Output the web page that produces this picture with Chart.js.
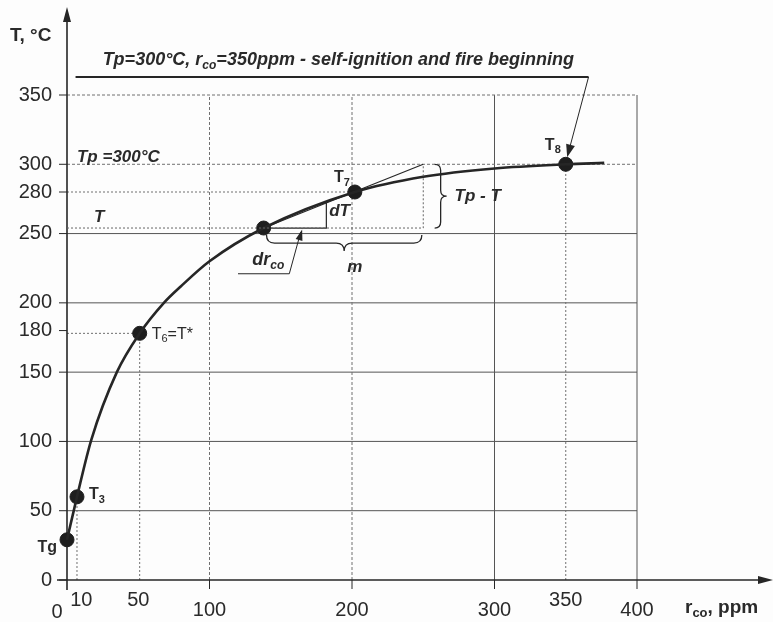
<!DOCTYPE html>
<html>
<head>
<meta charset="utf-8">
<script src="https://cdn.jsdelivr.net/npm/chart.js@4.4.0/dist/chart.umd.min.js"></script>
<style>
html, body { margin: 0; padding: 0; background: #fff; }
</style>
</head>
<body>
<canvas id="chart" width="773" height="622"></canvas>
<script>
// T = f(r_co) curve
const curveX = [0, 7, 17, 35, 51, 68, 80, 100, 138, 202, 250, 300, 350, 377];
const curveT = [29, 60, 101, 150, 178, 200, 212, 230, 254, 280, 291, 297, 300, 301];

// marked points
const pointNames = ['Tg', 'T3', 'T6', 'T', 'T7', 'T8'];
const pointX = [0, 7, 51, 138, 202, 350];
const pointT = [29, 60, 178, 254, 280, 300];

// secant through T and T7, extended up to Tp
const secantX = [138, 250];
const secantT = [254, 300];

// dT / dr_co step
const stepX = [138, 182, 182];
const stepT = [254, 254, 272];

// Tp - T box (dotted)
const boxX = [0, 250, 250];
const boxT = [254, 254, 300];

// self-ignition line at the top
const topLineX = [6, 366];
const topLineT = [363, 363];

// axis ticks
const xTicks = [0, 10, 50, 100, 200, 300, 350, 400];
const yTicks = [0, 50, 100, 150, 180, 200, 250, 280, 300, 350];
const yGridSolid = [50, 100, 150, 200, 250];
const yGridDotted = [300, 350];
const xGridSolid = [300, 400];
const xGridDotted = [100, 200];

const toXY = (xs, ys) => xs.map((x, i) => ({ x: x, y: ys[i] }));
const fam = '"Liberation Sans", Arial, sans-serif';
const ink = '#262626';

function rich(ctx, parts, x, y, size, style, align) {
  let w = 0;
  const fonts = parts.map(p => style + ' ' + (p[1] ? Math.round(size * 0.68) : size) + 'px ' + fam);
  const widths = parts.map((p, i) => { ctx.font = fonts[i]; const m = ctx.measureText(p[0]).width; w += m; return m; });
  let cx = align === 'right' ? x - w : align === 'center' ? x - w / 2 : x;
  ctx.textAlign = 'left';
  ctx.textBaseline = 'middle';
  parts.forEach((p, i) => {
    ctx.font = fonts[i];
    ctx.fillText(p[0], cx, p[1] ? y + size * 0.3 : y);
    cx += widths[i];
  });
}

function line(ctx, x1, y1, x2, y2) {
  ctx.beginPath(); ctx.moveTo(x1, y1); ctx.lineTo(x2, y2); ctx.stroke();
}

function arrowHead(ctx, x, y, ang, len, half) {
  ctx.beginPath();
  ctx.moveTo(x, y);
  ctx.lineTo(x - len * Math.cos(ang) + half * Math.sin(ang), y - len * Math.sin(ang) - half * Math.cos(ang));
  ctx.lineTo(x - len * Math.cos(ang) - half * Math.sin(ang), y - len * Math.sin(ang) + half * Math.cos(ang));
  ctx.closePath();
  ctx.fill();
}

function braceDown(ctx, x1, x2, y, d) {
  const xm = (x1 + x2) / 2, h = d / 2;
  ctx.beginPath();
  ctx.moveTo(x1, y);
  ctx.quadraticCurveTo(x1, y + h, x1 + h, y + h);
  ctx.lineTo(xm - h, y + h);
  ctx.quadraticCurveTo(xm, y + h, xm, y + d);
  ctx.quadraticCurveTo(xm, y + h, xm + h, y + h);
  ctx.lineTo(x2 - h, y + h);
  ctx.quadraticCurveTo(x2, y + h, x2, y);
  ctx.stroke();
}

function braceRight(ctx, x, y1, y2, d) {
  const ym = (y1 + y2) / 2, h = d / 2;
  ctx.beginPath();
  ctx.moveTo(x, y1);
  ctx.quadraticCurveTo(x + h, y1, x + h, y1 + h);
  ctx.lineTo(x + h, ym - h);
  ctx.quadraticCurveTo(x + h, ym, x + d, ym);
  ctx.quadraticCurveTo(x + h, ym, x + h, ym + h);
  ctx.lineTo(x + h, y2 - h);
  ctx.quadraticCurveTo(x + h, y2, x, y2);
  ctx.stroke();
}

const sketch = {
  id: 'sketch',
  beforeDraw(chart) {
    const ctx = chart.ctx;
    ctx.save();
    ctx.fillStyle = '#fdfdfd';
    ctx.fillRect(0, 0, chart.width, chart.height);
    ctx.restore();
  },
  beforeDatasetsDraw(chart) {
    const ctx = chart.ctx, sx = chart.scales.x, sy = chart.scales.y;
    const px = v => sx.getPixelForValue(v), py = v => sy.getPixelForValue(v);
    ctx.save();
    ctx.lineWidth = 1;
    // grid
    ctx.strokeStyle = '#555';
    yGridSolid.forEach(v => line(ctx, px(0), py(v), px(400), py(v)));
    xGridSolid.forEach(v => line(ctx, px(v), py(0), px(v), py(350)));
    ctx.strokeStyle = '#707070';
    ctx.setLineDash([3, 2]);
    yGridDotted.forEach(v => line(ctx, px(0), py(v), px(400), py(v)));
    xGridDotted.forEach(v => line(ctx, px(v), py(0), px(v), py(350)));
    // guides to the marked points
    ctx.setLineDash([2, 2]);
    [1, 2, 5].forEach(i => line(ctx, px(pointX[i]), py(0), px(pointX[i]), py(pointT[i])));
    [2, 4].forEach(i => line(ctx, px(0), py(pointT[i]), px(pointX[i]), py(pointT[i])));
    ctx.setLineDash([]);
    // tick marks
    ctx.strokeStyle = ink;
    yTicks.forEach(v => line(ctx, px(0) - 8, py(v), px(0), py(v)));
    [100, 200, 300, 400].forEach(v => line(ctx, px(v), py(0), px(v), py(0) + 9));
    // axes with arrows
    ctx.lineWidth = 1.6;
    line(ctx, px(0), py(0) + 10, px(0), 12);
    line(ctx, px(0) - 10, py(0), 764, py(0));
    ctx.fillStyle = ink;
    arrowHead(ctx, px(0), 7, -Math.PI / 2, 15, 4);
    arrowHead(ctx, 773, py(0), 0, 15, 4);
    ctx.restore();
  },
  afterDatasetsDraw(chart) {
    const ctx = chart.ctx, sx = chart.scales.x, sy = chart.scales.y;
    const px = v => sx.getPixelForValue(v), py = v => sy.getPixelForValue(v);
    ctx.save();
    ctx.fillStyle = '#2a2a2a';
    // tick labels
    yTicks.forEach(v => rich(ctx, [[String(v)]], px(0) - 15, py(v), 20, 'normal', 'right'));
    xTicks.forEach(v => {
      let x = px(v), y = py(0) + 30;
      if (v === 0) { x -= 10; y += 2; }
      if (v === 10 || v === 50 || v === 350) y -= 10;
      rich(ctx, [[String(v)]], x, y, 20, 'normal', 'center');
    });
    // axis titles
    rich(ctx, [['T, °C']], 10, 36, 19, 'bold', 'left');
    rich(ctx, [['r'], ['co', 1], [', ppm']], 685, 608, 19, 'bold', 'left');
    // point labels
    rich(ctx, [['Tg']], px(pointX[0]) - 10, py(pointT[0]) + 8, 16, 'bold', 'right');
    rich(ctx, [['T'], ['3', 1]], px(pointX[1]) + 12, py(pointT[1]) - 2, 16, 'bold', 'left');
    rich(ctx, [['T'], ['6', 1], ['=T*']], px(pointX[2]) + 12, py(pointT[2]) + 1, 16, 'normal', 'left');
    rich(ctx, [['T'], ['7', 1]], px(pointX[4]) - 5, py(pointT[4]) - 14, 16, 'bold', 'right');
    rich(ctx, [['T'], ['8', 1]], px(pointX[5]) - 5, py(pointT[5]) - 19, 16, 'bold', 'right');
    // annotations
    const bi = 'italic bold';
    rich(ctx, [['Tp=300°C, r'], ['co', 1], ['=350ppm - self-ignition and fire beginning']], px(25), py(375), 18, bi, 'left');
    rich(ctx, [['Tp =300°C']], px(7), py(305), 17, bi, 'left');
    rich(ctx, [['T']], px(19), py(262), 17, bi, 'left');
    rich(ctx, [['dT']], px(184), py(266), 17, bi, 'left');
    rich(ctx, [['m']], px(202), py(226), 17, bi, 'center');
    rich(ctx, [['dr'], ['co', 1]], px(130), py(231), 18, bi, 'left');
    rich(ctx, [['Tp - T']], px(272), py(277), 17, bi, 'left');
    // braces
    ctx.strokeStyle = ink;
    ctx.lineWidth = 1.3;
    braceDown(ctx, px(140), px(249), py(254) + 7, 16);
    braceRight(ctx, px(258), py(300), py(254), 12);
    // dr_co leader with arrow
    ctx.lineWidth = 1;
    line(ctx, px(120), py(221), px(156), py(221));
    line(ctx, px(156), py(221), px(164), py(251));
    ctx.fillStyle = ink;
    const a1 = Math.atan2(py(253) - py(221), px(165) - px(156));
    arrowHead(ctx, px(165), py(253), a1, 11, 3.5);
    // arrow from the self-ignition line to T8
    line(ctx, px(366), py(363), px(352), py(309));
    const a2 = Math.atan2(py(305) - py(363), px(351) - px(366));
    arrowHead(ctx, px(351), py(305), a2, 13, 4.5);
    ctx.restore();
  }
};

new Chart(document.getElementById('chart'), {
  type: 'line',
  data: {
    datasets: [
      { data: toXY(boxX, boxT), borderColor: '#666', borderWidth: 1, borderDash: [2, 2], pointRadius: 0, clip: false },
      { data: toXY(secantX, secantT), borderColor: ink, borderWidth: 1.2, pointRadius: 0, clip: false },
      { data: toXY(stepX, stepT), borderColor: ink, borderWidth: 1.2, pointRadius: 0, clip: false },
      { data: toXY(topLineX, topLineT), borderColor: ink, borderWidth: 1.8, pointRadius: 0, clip: false },
      { data: toXY(curveX, curveT), borderColor: ink, borderWidth: 2.6, pointRadius: 0,
        cubicInterpolationMode: 'monotone', clip: false },
      { label: 'points', data: toXY(pointX, pointT), showLine: false, pointRadius: 7,
        pointBackgroundColor: '#1e1e1e', pointBorderColor: '#1e1e1e', clip: false }
    ]
  },
  options: {
    responsive: false,
    animation: false,
    layout: { padding: { left: 67, top: 95, right: 136, bottom: 42 } },
    scales: {
      x: { type: 'linear', min: 0, max: 400, display: false },
      y: { type: 'linear', min: 0, max: 350, display: false }
    },
    plugins: { legend: { display: false }, tooltip: { enabled: false } }
  },
  plugins: [sketch]
});
</script>
</body>
</html>
